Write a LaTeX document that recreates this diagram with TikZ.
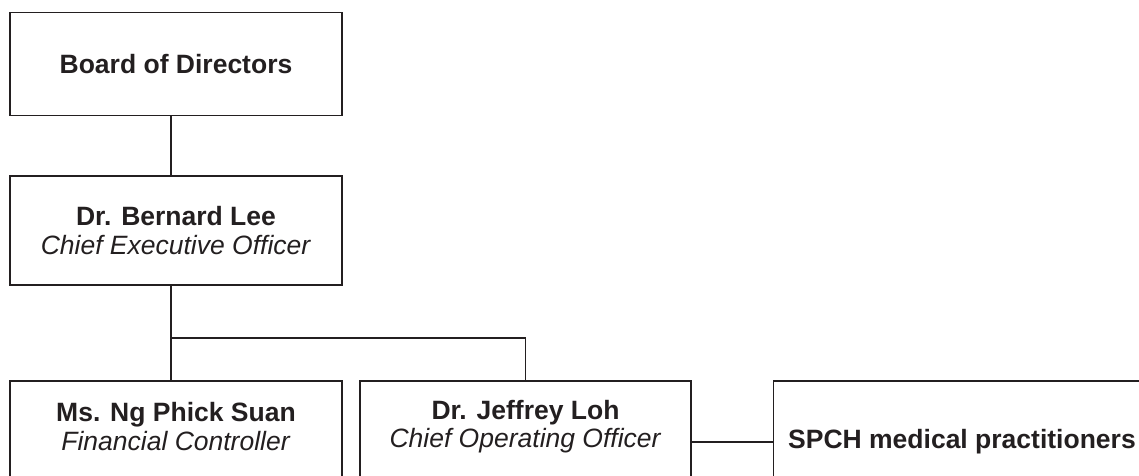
\documentclass[tikz,border=0pt]{standalone}
\usepackage{fontspec}
\setmainfont{Liberation Sans}
\definecolor{ink}{HTML}{231F20}

\tikzset{
  orgbox/.style = {draw=ink, line width=1.2pt, inner sep=0pt, minimum width=332pt, align=center},
  who/.style    = {text=ink, align=center, font=\fontsize{26.5}{28.5}\selectfont},
  link/.style   = {draw=ink, line width=1.2pt}
}

\begin{document}
\begin{tikzpicture}[x = 1pt, y = -1pt]
\useasboundingbox (0,0) rectangle (1139,475);
\clip (0,0) rectangle (1139,475);
% top of the chart
\node[orgbox, minimum height=103pt, who] (board) at (176,64) {\textbf{Board of Directors}};
\node[orgbox, minimum height=109pt, who] (ceo) at (176,230.5)
  {\textbf{Dr. Bernard Lee}\\\textit{Chief Executive Officer}};
% bottom row (cut off by the page edge)
\node[orgbox, minimum height=122pt] (fc) at (176,442) {};
\node[orgbox, minimum height=122pt, minimum width=331pt] (coo) at (525.5,442) {};
\node[orgbox, minimum height=122pt, minimum width=540pt, anchor=west] (spch) at (773,442) {};
\node[who] (fctext) at ([yshift=15.5pt]fc.center)
  {\textbf{Ms. Ng Phick Suan}\\\textit{Financial Controller}};
\node[who] (cootext) at ([yshift=15.5pt]coo.center)
  {\textbf{Dr. Jeffrey Loh}\\\textit{Chief Operating Officer}};
\node[who, anchor=west, inner sep=0pt] (spchtext) at ([xshift=15pt]spch.west)
  {\textbf{SPCH medical practitioners}};
% connectors
\coordinate (split) at (171,338);
\draw[link] ([xshift=-5pt]board.south) -- ([xshift=-5pt]ceo.north);
\draw[link] ([xshift=-5pt]ceo.south) -- ([xshift=-5pt]fc.north);
\draw[link] (split) -| (coo.north);
\draw[link] (coo.east) -- (spch.west);
\end{tikzpicture}
\end{document}
